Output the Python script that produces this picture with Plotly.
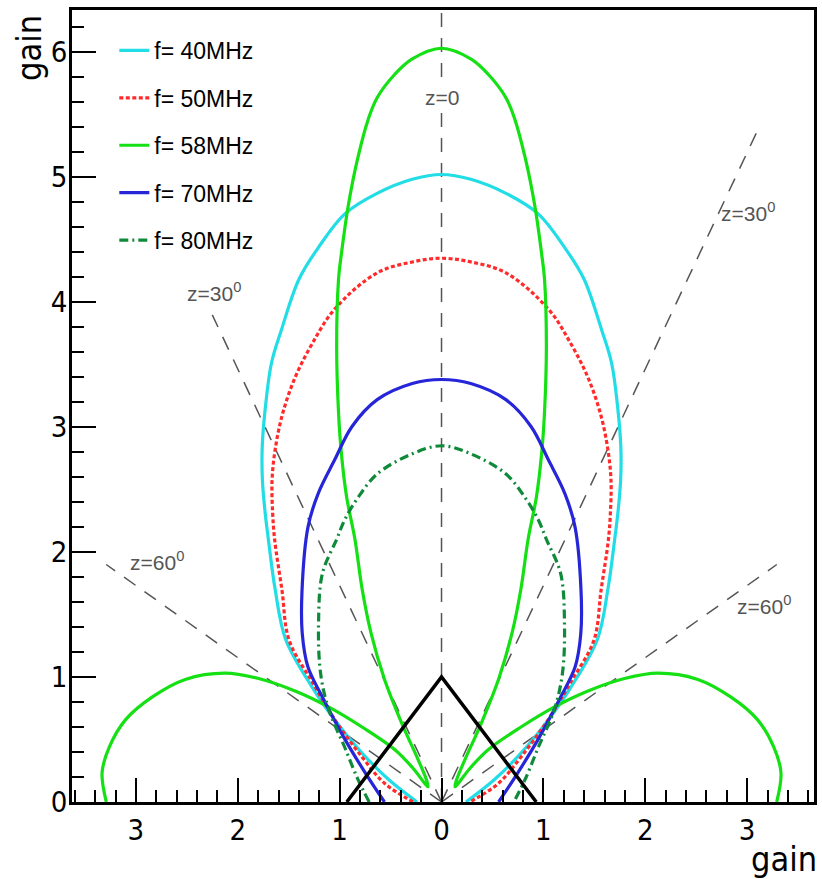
import numpy as np
import plotly.graph_objects as go

# ---- data (zenith angle in degrees, gain) : right half of each pattern ----
Z_40 = [0, 3.3, 7.4, 11.4, 15.2, 18.5, 22.6, 25.4, 28.7, 31.8, 34.3, 36.8, 39.0, 43.8, 49.6, 54.1, 57.9, 63.4, 70.9, 90]
G_40 = [5.02, 4.99, 4.91, 4.80, 4.60, 4.41, 4.09, 3.89, 3.60, 3.34, 3.12, 2.89, 2.70, 2.36, 2.01, 1.57, 1.24, 0.87, 0.55, 0.24]

Z_50 = [0, 3.8, 8.5, 14.9, 19.1, 22.9, 26.6, 29.9, 32.8, 35.7, 38.0, 42.7, 49.1, 53.0, 57.8, 65.2, 75.0, 90]
G_50 = [4.35, 4.33, 4.28, 4.08, 3.88, 3.69, 3.48, 3.27, 3.07, 2.84, 2.66, 2.31, 1.98, 1.58, 1.24, 0.86, 0.58, 0.28]

# 58 MHz: main lobe from the top down to the null, then the side lobe out to the horizon
Z_58 = [0, 2.8, 4.5, 6.4, 7.5, 9.1, 10.9, 12.6, 13.6, 15.8, 18.0, 19.4, 20.9, 22.0, 24.6, 27.1, 29.7,
        31.8, 34.1, 39.8, 47.3, 46.0, 47.6, 52.4, 55.6, 58.3, 61.2, 64.1, 68.7, 73.5, 78.0, 82.3, 86.0, 90]
G_58 = [6.03, 5.95, 5.84, 5.67, 5.51, 5.21, 4.85, 4.50, 4.30, 3.78, 3.27, 2.96, 2.61, 2.27, 1.87, 1.52, 1.13,
        0.74, 0.41, 0.23, 0.18, 0.40, 0.62, 0.98, 1.35, 1.69, 2.05, 2.36, 2.70, 2.96, 3.17, 3.29, 3.34, 3.29]

Z_70 = [0, 4.9, 11.1, 16.3, 21.0, 26.1, 30.8, 38.9, 45.4, 50.5, 54.3, 62.2, 72.9, 90]
G_70 = [3.38, 3.36, 3.28, 3.13, 2.93, 2.75, 2.56, 2.18, 1.92, 1.70, 1.44, 1.07, 0.78, 0.56]

Z_80 = [0, 5.9, 13.5, 18.6, 22.8, 26.1, 32.6, 40.2, 49.1, 56.3, 65.1, 77.6, 90]
G_80 = [2.85, 2.80, 2.70, 2.57, 2.45, 2.34, 2.17, 1.87, 1.57, 1.33, 1.05, 0.84, 0.71]

NAMES = ["f= 40MHz", "f= 50MHz", "f= 58MHz", "f= 70MHz", "f= 80MHz"]
COLORS = ["#22dde6", "#ff2a2a", "#14e014", "#2626d8", "#0f8a3a"]
DASHES = ["solid", "4px,2.5px", "solid", "solid", "9px,4px,2px,4px"]

# antenna (inverted V)
ANT_X = [-0.93, 0.0, 0.93]
ANT_Y = [0.0, 1.0, 0.0]

# reference directions (zenith angle, line length)
REF_Z = [0, 30, -30, 60, -60]
REF_LEN = [6.34, 6.2, 4.5, 3.8, 3.8]

XTICKS = [-3, -2, -1, 0, 1, 2, 3]
XTICK_TEXT = ["3", "2", "1", "0", "1", "2", "3"]
YTICKS = [0, 1, 2, 3, 4, 5, 6]


def full_pattern(z_deg, g):
    z = np.radians(np.array(z_deg, dtype=float))
    g = np.array(g, dtype=float)
    xr = g * np.sin(z)
    yr = g * np.cos(z)
    x = np.concatenate([-xr[::-1], xr[1:]])
    y = np.concatenate([yr[::-1], yr[1:]])
    return x, y


fig = go.Figure()

# reference dashed lines
for zd, L in zip(REF_Z, REF_LEN):
    zr = np.radians(zd)
    fig.add_trace(go.Scatter(x=[0, L * np.sin(zr)], y=[0, L * np.cos(zr)], mode="lines",
                             line=dict(color="#555555", width=1.5, dash="14px,11px"),
                             showlegend=False, hoverinfo="skip"))

patterns = [(Z_40, G_40), (Z_50, G_50), (Z_58, G_58), (Z_70, G_70), (Z_80, G_80)]
for i, (zz, gg) in enumerate(patterns):
    x, y = full_pattern(zz, gg)
    fig.add_trace(go.Scatter(x=x, y=y, mode="lines", name=NAMES[i], legendgroup=NAMES[i],
                             line=dict(color=COLORS[i], width=3.2, dash=DASHES[i], shape="spline", smoothing=1.0)))

fig.add_trace(go.Scatter(x=ANT_X, y=ANT_Y, mode="lines", line=dict(color="black", width=3.5),
                         showlegend=False, hoverinfo="skip"))

lab_font = dict(family="Liberation Sans, Arial, sans-serif", size=21, color="#555555")
fig.add_annotation(x=0, y=5.64, text="z=0", showarrow=False, font=lab_font, bgcolor="white",
                   xanchor="center", yanchor="middle")
fig.add_annotation(x=2.72, y=4.72, text="z=30<sup>0</sup>", showarrow=False, font=lab_font,
                   xanchor="left", yanchor="middle")
fig.add_annotation(x=-2.23, y=4.08, text="z=30<sup>0</sup>", showarrow=False, font=lab_font,
                   xanchor="center", yanchor="middle")
fig.add_annotation(x=-3.08, y=1.93, text="z=60<sup>0</sup>", showarrow=False, font=lab_font,
                   xanchor="left", yanchor="middle")
fig.add_annotation(x=2.88, y=1.58, text="z=60<sup>0</sup>", showarrow=False, font=lab_font,
                   xanchor="left", yanchor="middle")

title_font = dict(family="Liberation Sans Narrow, DejaVu Sans Condensed, sans-serif", size=34, color="black")
fig.add_annotation(xref="paper", yref="paper", x=-0.058, y=0.952, text="gain", textangle=-90,
                   showarrow=False, font=title_font, xanchor="center", yanchor="middle")
fig.add_annotation(xref="paper", yref="paper", x=0.96, y=-0.072, text="gain",
                   showarrow=False, font=title_font, xanchor="center", yanchor="middle")

tick_font = dict(family="Liberation Sans Narrow, DejaVu Sans Condensed, sans-serif", size=29, color="black")
axis_common = dict(showline=True, linecolor="black", linewidth=2.5, mirror=True, showgrid=False,
                   zeroline=False, ticks="inside", ticklen=24, tickwidth=2, tickcolor="black",
                   tickfont=tick_font)
fig.update_xaxes(range=[-3.627, 3.656], tickmode="array", tickvals=XTICKS, ticktext=XTICK_TEXT,
                 minor=dict(tickmode="linear", tick0=0, dtick=0.2, ticks="inside", ticklen=12,
                            tickwidth=1.5, tickcolor="black", showgrid=False),
                 **axis_common)
fig.update_yaxes(range=[0, 6.336], tickmode="array", tickvals=YTICKS, ticklabelstandoff=-4,
                 minor=dict(tickmode="linear", tick0=0, dtick=0.2, ticks="inside", ticklen=12,
                            tickwidth=1.5, tickcolor="black", showgrid=False),
                 **axis_common)

fig.update_layout(
    width=822, height=879,
    margin=dict(l=72, r=5, t=10, b=77),
    plot_bgcolor="white", paper_bgcolor="white",
    showlegend=True,
    legend=dict(x=0.057, y=0.976, xanchor="left", yanchor="top", bgcolor="rgba(255,255,255,0)",
                font=dict(family="Liberation Sans, Arial, sans-serif", size=23, color="black"),
                tracegroupgap=14.5, itemwidth=30),
)

fig.write_html("out.html")
